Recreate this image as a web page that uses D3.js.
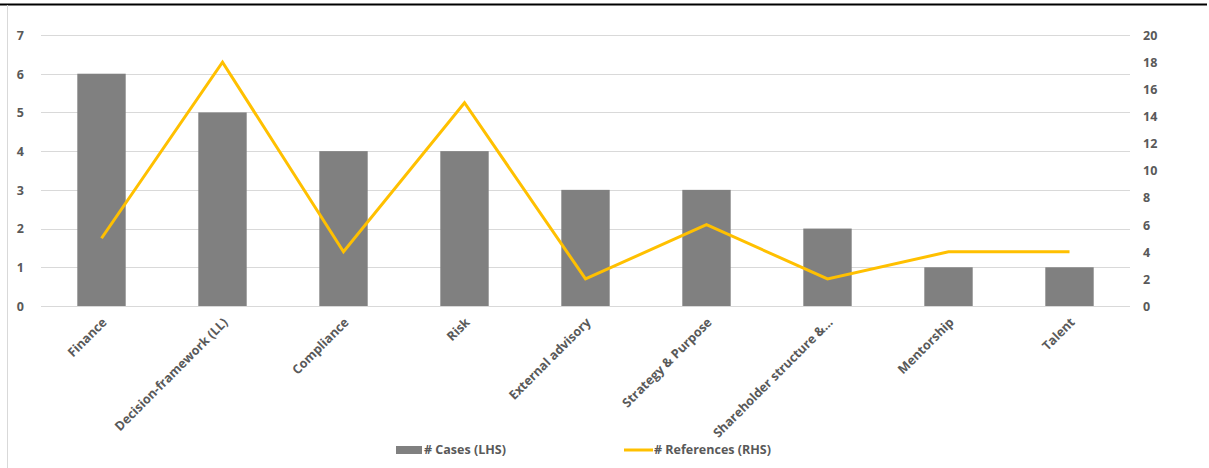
<!DOCTYPE html>
<html>
<head>
<meta charset="utf-8">
<script src="https://cdn.jsdelivr.net/npm/d3@7"></script>
<style>
  html, body { margin: 0; padding: 0; background: #fff; }
  svg { display: block; }
  text { font-family: "Open Sans", "Liberation Sans", sans-serif; font-weight: 700; fill: #595959; }
</style>
</head>
<body>
<svg id="chart" width="1209" height="468"></svg>
<script>
// Categories and series
const categories = ["Finance", "Decision-framework (LL)", "Compliance", "Risk", "External advisory",
                    "Strategy & Purpose", "Shareholder structure &...", "Mentorship", "Talent"];
const cases = [6, 5, 4, 4, 3, 3, 2, 1, 1];
const references = [5, 18, 4, 15, 2, 6, 2, 4, 4];
const leftTicks = [0, 1, 2, 3, 4, 5, 6, 7];
const rightTicks = [0, 2, 4, 6, 8, 10, 12, 14, 16, 18, 20];
const seriesNames = ["# Cases (LHS)", "# References (RHS)"];

const W = 1209, H = 468;
const plot = { left: 41, right: 1130, top: 35, bottom: 306 };
const barColor = "#808080", lineColor = "#FFC000", gridColor = "#D9D9D9";

const svg = d3.select("#chart");

// Frame: dark rule along the top, light rule on the left
svg.append("line").attr("x1", 0).attr("x2", 1207).attr("y1", 4.5).attr("y2", 4.5)
  .attr("stroke", "#000").attr("stroke-width", 2);
svg.append("line").attr("x1", 7.5).attr("x2", 7.5).attr("y1", 5).attr("y2", H)
  .attr("stroke", "#D9D9D9").attr("stroke-width", 1);

const x = d3.scaleBand().domain(categories).range([plot.left, plot.right]).paddingInner(0.6).paddingOuter(0.3);
const yL = d3.scaleLinear().domain([0, 7]).range([plot.bottom, plot.top]);
const yR = d3.scaleLinear().domain([0, 20]).range([plot.bottom, plot.top]);

// Gridlines
svg.append("g").selectAll("line").data(leftTicks).join("line")
  .attr("x1", plot.left).attr("x2", plot.right)
  .attr("y1", d => Math.round(yL(d)) + 0.5).attr("y2", d => Math.round(yL(d)) + 0.5)
  .attr("stroke", gridColor).attr("stroke-width", 1);

// Left axis
const axL = svg.append("g").attr("transform", `translate(${plot.left - 17},0)`)
  .call(d3.axisLeft(yL).tickValues(leftTicks).tickFormat(d3.format("d")).tickSize(0).tickPadding(0));
axL.select(".domain").remove();
axL.selectAll("text").style("font-size", "12.5px").attr("dy", "0.35em").style("fill", "#595959");

// Right axis
const axR = svg.append("g").attr("transform", `translate(${plot.right + 13},0)`)
  .call(d3.axisRight(yR).tickValues(rightTicks).tickFormat(d3.format("d")).tickSize(0).tickPadding(0));
axR.select(".domain").remove();
axR.selectAll("text").style("font-size", "12.5px").attr("dy", "0.35em").style("fill", "#595959");

// Bars
svg.append("g").selectAll("rect").data(categories).join("rect")
  .attr("x", d => x(d))
  .attr("width", x.bandwidth())
  .attr("y", (d, i) => yL(cases[i]))
  .attr("height", (d, i) => yL(0) - yL(cases[i]))
  .attr("fill", barColor);

// Line series on the right-hand scale
const line = d3.line()
  .x((d, i) => x(categories[i]) + x.bandwidth() / 2)
  .y(d => yR(d));
svg.append("path").datum(references)
  .attr("d", line).attr("fill", "none")
  .attr("stroke", lineColor).attr("stroke-width", 3)
  .attr("stroke-linejoin", "miter").attr("stroke-linecap", "butt");

// Category labels, rotated
svg.append("g").selectAll("text").data(categories).join("text")
  .attr("transform", d => `translate(${x(d) + x.bandwidth() / 2 + 3},${plot.bottom + 14}) rotate(-45)`)
  .attr("text-anchor", "end")
  .attr("dy", "0.35em")
  .style("font-size", "12.6px")
  .text(d => d);

// Legend
const lg = svg.append("g");
lg.append("rect").attr("x", 396).attr("y", 446).attr("width", 26).attr("height", 8).attr("fill", barColor);
lg.append("text").attr("x", 424).attr("y", 450).attr("dy", "0.35em").style("font-size", "12.5px").text(seriesNames[0]);
lg.append("line").attr("x1", 624).attr("x2", 653).attr("y1", 450).attr("y2", 450)
  .attr("stroke", lineColor).attr("stroke-width", 3);
lg.append("text").attr("x", 654).attr("y", 450).attr("dy", "0.35em").style("font-size", "12.5px").text(seriesNames[1]);
</script>
</body>
</html>
